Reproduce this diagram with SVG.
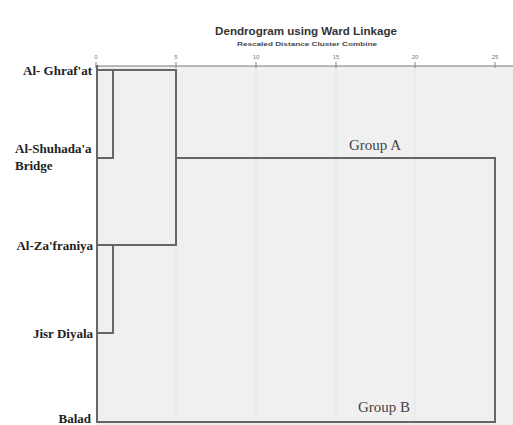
<svg xmlns="http://www.w3.org/2000/svg" width="513" height="425" viewBox="0 0 513 425">
<style>
.lbl{font-family:"Liberation Serif","Times New Roman",serif;font-weight:bold;font-size:13px;fill:#222}
.grp{font-family:"Liberation Serif","Times New Roman",serif;font-size:15px;fill:#444}
.tick{font-family:"Liberation Sans",Arial,sans-serif;font-size:6px;fill:#777;text-anchor:middle}
.ln{stroke:#666;stroke-width:2;fill:none}
.grid{stroke:#ebebeb;stroke-width:3}
</style>
<rect width="513" height="425" fill="#ffffff"/>
<rect x="97" y="66" width="416" height="359" fill="#f0f0f0"/>
<g id="grid">
<line class="grid" x1="176" y1="68" x2="176" y2="421"/>
<line class="grid" x1="256" y1="68" x2="256" y2="421"/>
<line class="grid" x1="336" y1="68" x2="336" y2="421"/>
<line class="grid" x1="415" y1="68" x2="415" y2="421"/>
</g>
<g id="title">
<text x="306" y="35" font-family="Liberation Sans,Arial,sans-serif" font-size="11.6" font-weight="bold" fill="#333" text-anchor="middle">Dendrogram using Ward Linkage</text>
<text x="307" y="46" font-family="Liberation Sans,Arial,sans-serif" font-size="5.5" font-weight="bold" fill="#444" text-anchor="middle" textLength="140" lengthAdjust="spacingAndGlyphs">Rescaled Distance Cluster Combine</text>
</g>
<g id="axis">
<line x1="95" y1="66" x2="513" y2="66" stroke="#777" stroke-width="1"/>
<g stroke="#888" stroke-width="1">
<line x1="96" y1="62" x2="96" y2="68"/>
<line x1="176" y1="62" x2="176" y2="68"/>
<line x1="256" y1="62" x2="256" y2="68"/>
<line x1="336" y1="62" x2="336" y2="68"/>
<line x1="415" y1="62" x2="415" y2="68"/>
<line x1="495" y1="62" x2="495" y2="68"/>
</g>
<text class="tick" x="96" y="59">0</text>
<text class="tick" x="176" y="59">5</text>
<text class="tick" x="256" y="59">10</text>
<text class="tick" x="336" y="59">15</text>
<text class="tick" x="415" y="59">20</text>
<text class="tick" x="495" y="59">25</text>
</g>
<g id="node-alghrafat"><text class="lbl" x="92" y="75" text-anchor="end">Al- Ghraf'at</text></g>
<g id="node-alshuhada"><text class="lbl" x="15" y="153">Al-Shuhada'a</text><text class="lbl" x="15" y="170">Bridge</text></g>
<g id="node-alzafraniya"><text class="lbl" x="93" y="250" text-anchor="end">Al-Za'franiya</text></g>
<g id="node-jisrdiyala"><text class="lbl" x="93" y="338" text-anchor="end">Jisr Diyala</text></g>
<g id="node-balad"><text class="lbl" x="91" y="423" text-anchor="end">Balad</text></g>
<g id="node-groupA"><text class="grp" x="349" y="150">Group A</text></g>
<g id="node-groupB"><text class="grp" x="358" y="412">Group B</text></g>
<g id="connectors" class="ln">
<line x1="97" y1="65" x2="97" y2="423"/>
<polyline points="97,70 176,70 176,245 97,245"/>
<polyline points="97,70 113,70 113,158 97,158"/>
<polyline points="97,245 113,245 113,333 97,333"/>
<polyline points="176,158 495,158 495,422 97,422"/>
</g>
</svg>
